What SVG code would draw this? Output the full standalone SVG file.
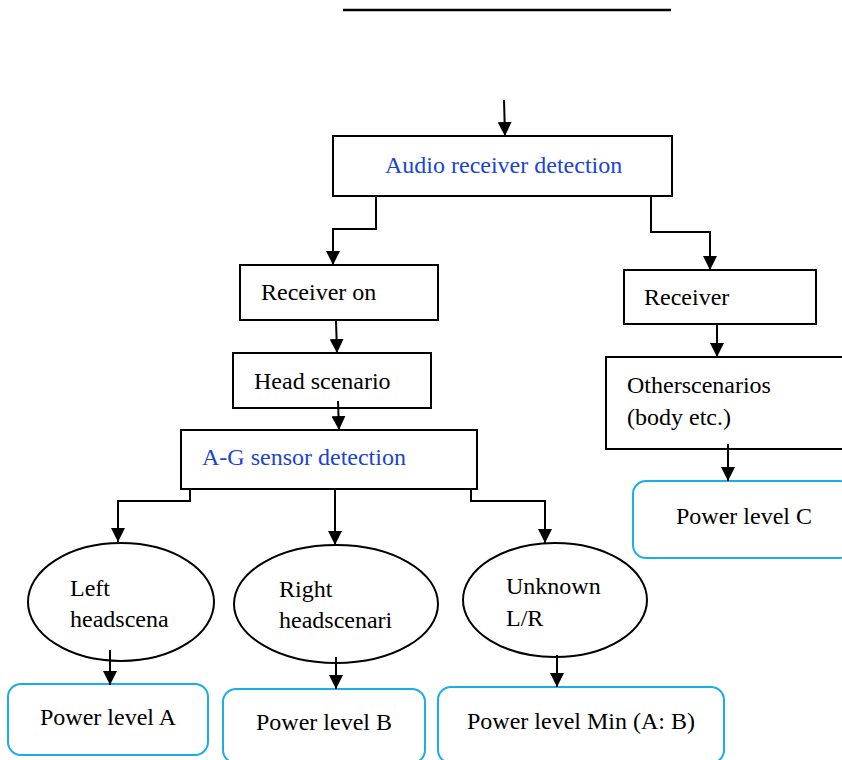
<svg xmlns="http://www.w3.org/2000/svg" width="842" height="760" viewBox="0 0 842 760">
<defs>
<marker id="ah" viewBox="0 0 14 14" refX="14" refY="7" markerWidth="14" markerHeight="14" markerUnits="userSpaceOnUse" orient="auto">
<path d="M0,0 L14,7 L0,14 z" fill="#000"/>
</marker>
<style>
.box{fill:#fff;stroke:#000;stroke-width:2}
.pl{fill:#fff;stroke:#19aeea;stroke-width:2}
.t{font-family:"Liberation Serif","Times New Roman",serif;font-size:24px;fill:#000}
.b{fill:#1a44d6}
.c{fill:none;stroke:#000;stroke-width:2;marker-end:url(#ah)}
</style>
</defs>
<rect width="842" height="760" fill="#fff"/>
<line x1="343" y1="10" x2="671" y2="10" stroke="#000" stroke-width="2.5"/>
<g id="n-audio"><rect class="box" x="333" y="136" width="339" height="60"/><text class="t b" x="385" y="173">Audio receiver detection</text></g>
<g id="n-recon"><rect class="box" x="240" y="265" width="198" height="55"/><text class="t" x="261" y="300">Receiver on</text></g>
<g id="n-rec"><rect class="box" x="624" y="270" width="192" height="54"/><text class="t" x="644" y="305">Receiver</text></g>
<g id="n-head"><rect class="box" x="233" y="353" width="198" height="55"/><text class="t" x="254" y="389">Head scenario</text></g>
<g id="n-ag"><rect class="box" x="181" y="430" width="296" height="59"/><text class="t b" x="202" y="465">A-G sensor detection</text></g>
<g id="n-other"><rect class="box" x="606" y="357" width="240" height="92"/><text class="t" x="627" y="393">Otherscenarios</text><text class="t" x="627" y="425">(body etc.)</text></g>
<g id="n-pc"><rect class="pl" x="633" y="481" width="220" height="77" rx="13"/><text class="t" x="676" y="524">Power level C</text></g>
<g id="n-left"><ellipse cx="121" cy="602" rx="93" ry="59" fill="#fff" stroke="#000" stroke-width="2"/><text class="t" x="70" y="596">Left</text><text class="t" x="70" y="627">headscena</text></g>
<g id="n-right"><ellipse cx="336" cy="604" rx="102" ry="59" fill="#fff" stroke="#000" stroke-width="2"/><text class="t" x="279" y="597">Right</text><text class="t" x="279" y="628">headscenari</text></g>
<g id="n-unk"><ellipse cx="555" cy="600" rx="92" ry="57" fill="#fff" stroke="#000" stroke-width="2"/><text class="t" x="506" y="594">Unknown</text><text class="t" x="506" y="626">L/R</text></g>
<g id="n-pa"><rect class="pl" x="8" y="684" width="200" height="71" rx="13"/><text class="t" x="40" y="725">Power level A</text></g>
<g id="n-pb"><rect class="pl" x="223" y="689" width="202" height="74" rx="13"/><text class="t" x="256" y="730">Power level B</text></g>
<g id="n-pmin"><rect class="pl" x="438" y="687" width="286" height="76" rx="13"/><text class="t" x="467" y="729">Power level Min (A: B)</text></g>
<g id="connectors">
<path class="c" d="M504,100 L505,136"/>
<path class="c" d="M376,196 V229 H333 V265"/>
<path class="c" d="M651,196 V232 H710 V270"/>
<path class="c" d="M336,320 L337,353"/>
<path class="c" d="M338,401 L339,430"/>
<path class="c" d="M717,324 V357"/>
<path class="c" d="M728,444 V481"/>
<path class="c" d="M190,489 V501 H118 V542"/>
<path class="c" d="M335,489 V545"/>
<path class="c" d="M471,489 V501 H545 V543"/>
<path class="c" d="M110,650 V685"/>
<path class="c" d="M336,657 V689"/>
<path class="c" d="M557,655 V687"/>
</g>
</svg>
